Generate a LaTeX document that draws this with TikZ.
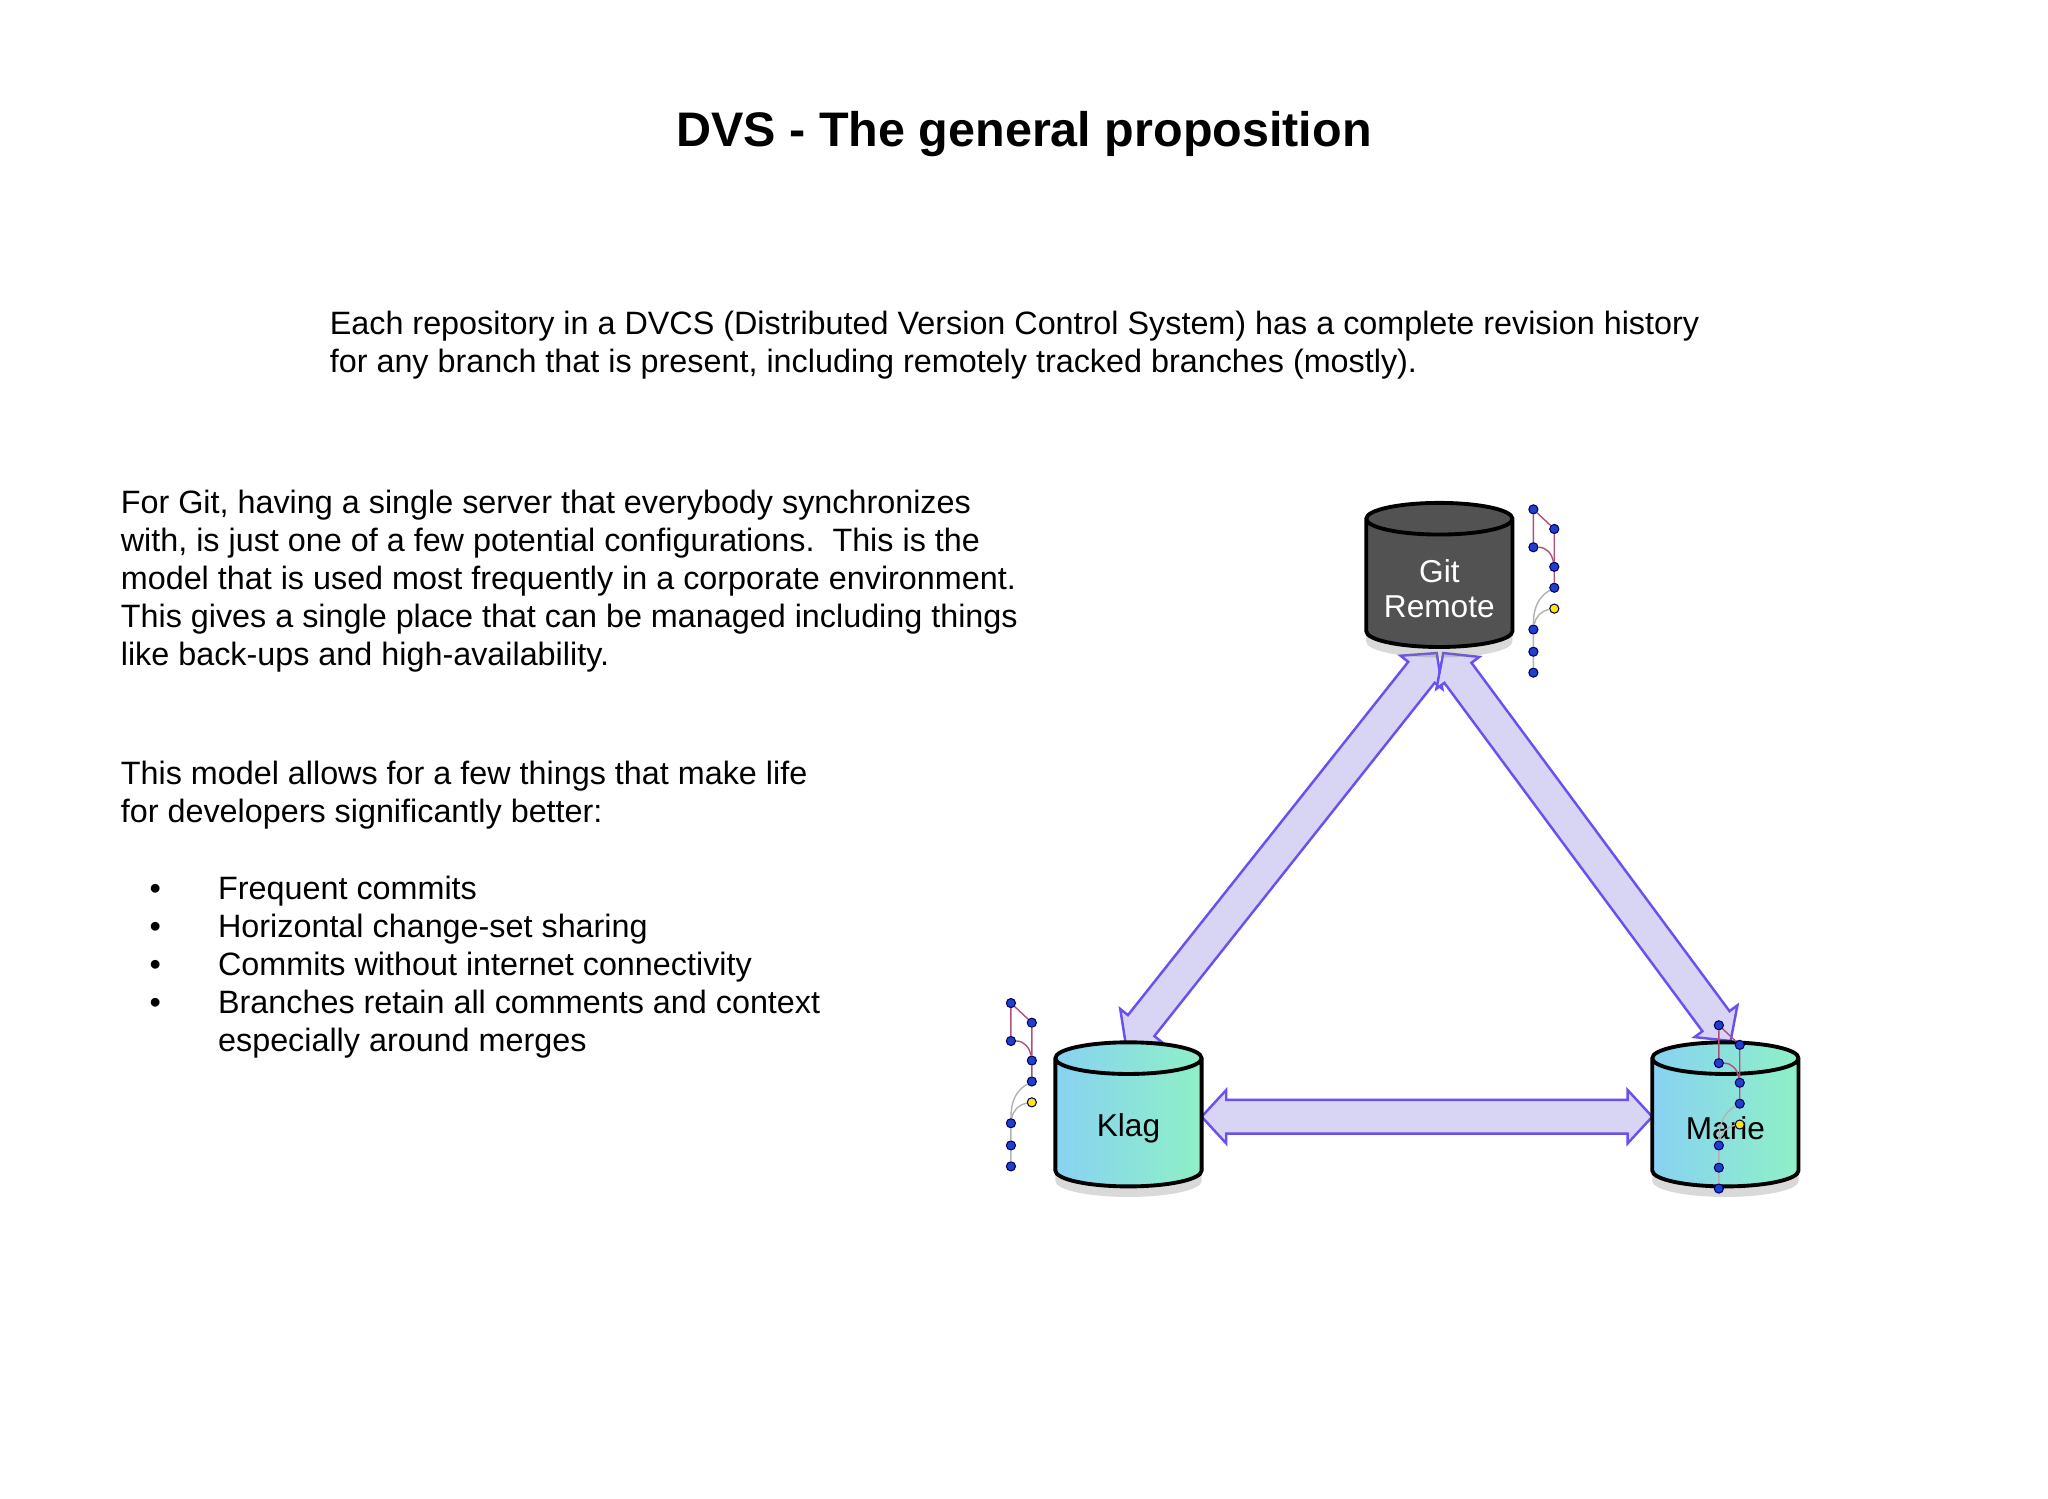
\documentclass[tikz,border=0pt]{standalone}
\usepackage{fontspec}
\setmainfont{Liberation Sans}
\usetikzlibrary{shapes.geometric,shadows,calc}

\definecolor{arrfill}{HTML}{D8D4F4}
\definecolor{arrline}{HTML}{6A50F0}
\definecolor{dotblue}{HTML}{2040C8}
\definecolor{branchred}{HTML}{B0507A}
\definecolor{skyleft}{HTML}{88D2F2}
\definecolor{mintright}{HTML}{8EF0C6}

% block arrow with heads at both ends, from node a to node b
\newcommand\blockarrow[2]{%
  \draw[blockarr] (#1)
    -- ($(#1)!7pt!(#2)!7.6pt!90:(#2)$) -- ($(#1)!7pt!(#2)!4.8pt!90:(#2)$)
    -- ($(#2)!7pt!(#1)!4.8pt!-90:(#1)$) -- ($(#2)!7pt!(#1)!7.6pt!-90:(#1)$)
    -- (#2)
    -- ($(#2)!7pt!(#1)!7.6pt!90:(#1)$) -- ($(#2)!7pt!(#1)!4.8pt!90:(#1)$)
    -- ($(#1)!7pt!(#2)!4.8pt!-90:(#2)$) -- ($(#1)!7pt!(#2)!7.6pt!-90:(#2)$)
    -- cycle;}

% little commit history next to a repository: prefix, x, y of top commit
\newcommand\commitgraph[3]{%
  \node[commit] (#1a) at (#2,#3) {};
  \node[commit] (#1b) at (#2+16,#3+15) {};
  \node[commit] (#1c) at (#2,#3+29) {};
  \node[commit] (#1d) at (#2+16,#3+44) {};
  \node[commit] (#1e) at (#2+16,#3+60) {};
  \node[commit, fill=yellow!90!orange] (#1f) at (#2+16,#3+76) {};
  \node[commit] (#1g) at (#2,#3+92) {};
  \node[commit] (#1h) at (#2,#3+109) {};
  \node[commit] (#1i) at (#2,#3+125) {};
  \draw[branch] (#1a) -- (#1b) -- (#1d) -- (#1e);
  \draw[branch] (#1a) -- (#1c) to[out=0, in=100] (#1d);
  \draw[trunk] (#1e) to[out=210, in=90] (#1g) -- (#1h) -- (#1i);
  \draw[trunk] (#1f) to[out=190, in=80] (#1g);}

\begin{document}
\begin{tikzpicture}[
  x=0.013061cm, y=-0.013061cm,
  repo/.style={cylinder, shape border rotate=90, aspect=0.5, draw=black, line width=1.1pt,
    minimum width=41.6pt, minimum height=41pt, inner sep=0pt,
    font=\fontsize{9}{11.6}\selectfont,
    drop shadow={shadow xshift=0pt, shadow yshift=-3pt, opacity=0.3}},
  client/.style={repo, left color=skyleft, right color=mintright},
  repolabel/.style={align=center, yshift=-1.5pt, font=\fontsize{9}{10}\selectfont},
  blockarr/.style={draw=arrline, line width=0.7pt, fill=arrfill, line join=miter},
  commit/.style={circle, draw=blue!40!black, line width=0.3pt, fill=dotblue, minimum size=2.6pt, inner sep=0pt},
  branch/.style={draw=branchred, line width=0.4pt},
  trunk/.style={draw=gray!60, line width=0.4pt},
  body/.style={anchor=north west, inner sep=0pt, align=left, font=\fontsize{9.2}{10.8}\selectfont}
]
  \useasboundingbox (0,0) rectangle (1568,1147);

  % Title and text
  \node[font=\bfseries\fontsize{13.8}{16}\selectfont] (title) at (784,103) {DVS - The general proposition};
  \node[body] (intro) at (252,238) {Each repository in a DVCS (Distributed Version Control System) has a complete revision history\\
    for any branch that is present, including remotely tracked branches (mostly).};
  \node[body] (server) at (92,375) {For Git, having a single server that everybody synchronizes\\
    with, is just one of a few potential configurations.\ \ This is the\\
    model that is used most frequently in a corporate environment.\\
    This gives a single place that can be managed including things\\
    like back-ups and high-availability.};
  \node[body] (model) at (92,582) {This model allows for a few things that make life\\
    for developers significantly better:};
  \node[body] (bullets) at (114,670) {\makebox[19.5pt][l]{\textbullet}Frequent commits\\
    \makebox[19.5pt][l]{\textbullet}Horizontal change-set sharing\\
    \makebox[19.5pt][l]{\textbullet}Commits without internet connectivity\\
    \makebox[19.5pt][l]{\textbullet}Branches retain all comments and context\\
    \makebox[19.5pt][l]{}especially around merges};

  % Arrow end points
  \coordinate (gl) at (1100,500);
  \coordinate (gr) at (1105,500);
  \coordinate (kt) at (862,800);
  \coordinate (mt) at (1325,797);
  \coordinate (kr) at (920,855);
  \coordinate (ml) at (1265,855);

  \blockarrow{gl}{kt}
  \blockarrow{gr}{mt}
  \blockarrow{kr}{ml}

  % Repositories
  \node[repo, fill=black!68, label={[repolabel, text=white]center:Git\\Remote}] (remote) at (1102,447) {\phantom{Klag}};
  \node[client, label={[repolabel]center:Klag}] (klag) at (864,860) {\phantom{Klag}};
  \node[client, label={[repolabel]center:Marie}] (marie) at (1321,860) {\phantom{Klag}};

  % Histories
  \commitgraph{g}{1174}{390}
  \commitgraph{k}{774}{768}
  \commitgraph{m}{1316}{785}
\end{tikzpicture}
\end{document}
